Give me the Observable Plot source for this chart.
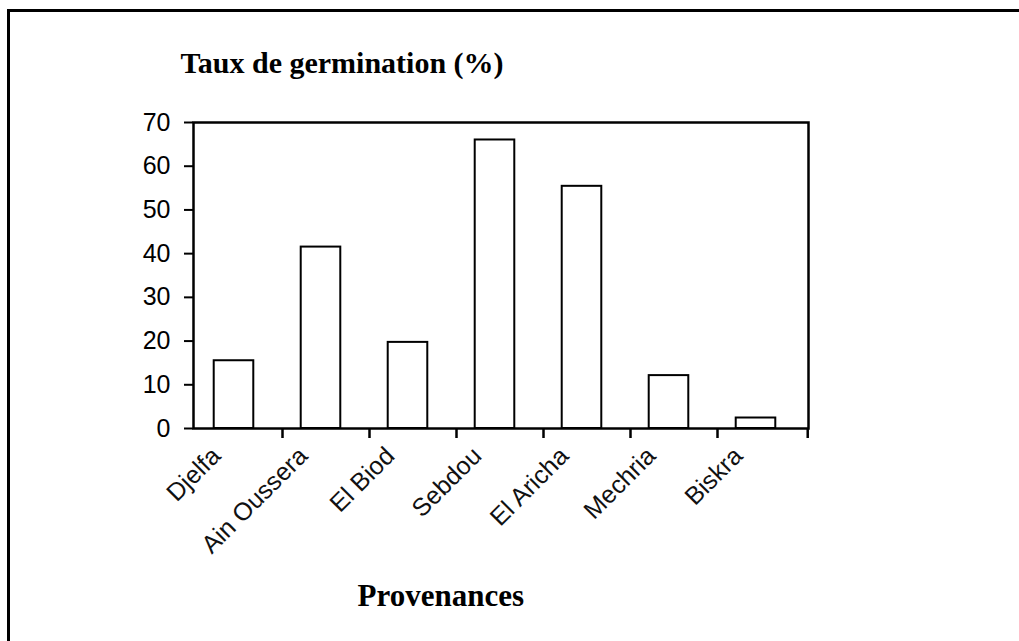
<!DOCTYPE html>
<html>
<head>
<meta charset="utf-8">
<script src="https://cdn.jsdelivr.net/npm/d3@7"></script>
<script src="https://cdn.jsdelivr.net/npm/@observablehq/plot@0.6"></script>
<style>
  html, body { margin: 0; padding: 0; background: #fff; overflow: hidden; }
  #wrap { position: relative; width: 1019px; height: 641px; overflow: hidden; }
  #hline { position: absolute; left: 7px; top: 9px; width: 1100px; height: 3px; background: #000; }
  #vline { position: absolute; left: 7px; top: 9px; width: 3px; height: 700px; background: #000; }
  #wrap svg { position: absolute; left: 0; top: 0; }
</style>
</head>
<body>
<div id="wrap"><div id="hline"></div><div id="vline"></div></div>
<script>
const categories = ["Djelfa", "Ain Oussera", "El Biod", "Sebdou", "El Aricha", "Mechria", "Biskra"];
const values = [15.5, 41.5, 19.7, 66, 55.4, 12.1, 2.4];
const yTicks = [0, 10, 20, 30, 40, 50, 60, 70];
const titleText = "Taux de germination (%)";
const xTitle = "Provenances";

const data = categories.map((c, i) => ({cat: c, val: values[i]}));
const W = 1019, H = 641;
const mL = 193, mR = W - 808, mT = 122, mB = H - 428;
const xRange = [188, 800];
const bw = (xRange[1] - xRange[0]) / categories.length;
const barW = 40;
const inset = (bw - barW) / 2;

const chart = Plot.plot({
  width: W,
  height: H,
  marginLeft: mL,
  marginRight: mR,
  marginTop: mT,
  marginBottom: mB,
  style: {fontFamily: "'Liberation Sans', Arial, sans-serif", color: "#000", background: "transparent"},
  x: {type: "band", domain: categories, range: xRange, padding: 0, axis: null},
  y: {domain: [0, 70], axis: null},
  marks: [
    Plot.barY(data, {x: "cat", y: "val", fill: "white", stroke: "black", strokeWidth: 2, insetLeft: inset, insetRight: inset}),
    Plot.frame({stroke: "black", strokeWidth: 2.5}),
    Plot.axisY({ticks: yTicks, tickSize: 9, tickPadding: 14, fontSize: 25, strokeWidth: 2, label: null, tickFormat: d => String(d)}),
    Plot.axisX({ticks: categories.slice(0, -1), tickSize: 10, dx: barW / 2 + 28.5, strokeWidth: 2.5, tickFormat: () => "", label: null}),
    Plot.axisX({ticks: categories.slice(-1), tickSize: 10, dx: 808 - (xRange[1] - bw / 2), strokeWidth: 2.5, tickFormat: () => "", label: null}),
    Plot.text(categories, {x: d => d, frameAnchor: "bottom", text: d => d, rotate: -45, textAnchor: "end", lineAnchor: "bottom", dx: -12, dy: 29, fontSize: 25, fill: "#111"}),
    Plot.text([titleText], {frameAnchor: "top-left", text: d => d, textAnchor: "start", lineAnchor: "bottom", dx: 180 - mL, dy: 72 - mT, fontFamily: "'Liberation Serif', 'Times New Roman', serif", fontWeight: "bold", fontSize: 30, fill: "#000"}),
    Plot.text([xTitle], {frameAnchor: "bottom-left", text: d => d, textAnchor: "start", lineAnchor: "bottom", dx: 357 - mL, dy: 605 - 428, fontFamily: "'Liberation Serif', 'Times New Roman', serif", fontWeight: "bold", fontSize: 31, fill: "#000"})
  ]
});
document.getElementById("wrap").prepend(chart);
</script>
</body>
</html>
